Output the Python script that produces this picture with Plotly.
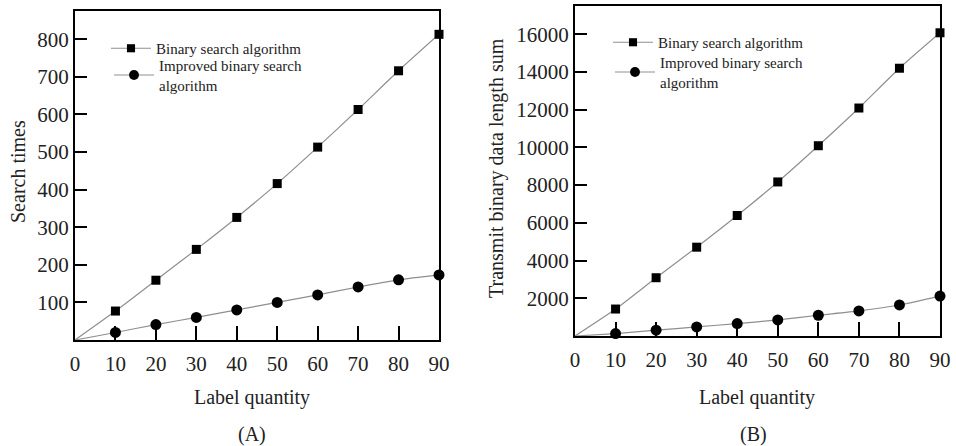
import plotly.graph_objects as go

# ---- data ----
label_quantity = [0, 10, 20, 30, 40, 50, 60, 70, 80, 90]
search_binary = [0, 77, 159, 241, 326, 416, 513, 613, 716, 813]
search_improved = [0, 20, 41, 60, 80, 100, 120, 141, 160, 173]
transmit_binary = [0, 1430, 3090, 4710, 6390, 8170, 10090, 12090, 14200, 16080]
transmit_improved = [0, 130, 310, 480, 660, 850, 1100, 1330, 1645, 2120]

x_ticks = [0, 10, 20, 30, 40, 50, 60, 70, 80, 90]
y_ticks_a = [100, 200, 300, 400, 500, 600, 700, 800]
y_ticks_b = [2000, 4000, 6000, 8000, 10000, 12000, 14000, 16000]

name_binary = "Binary search algorithm"
name_improved = "Improved binary search<br>algorithm"

W, H = 956, 446
FONT = "Liberation Serif"
LINE_C = "#8f8f8f"

def px(x):
    return x / W

def py(y):
    return (H - y) / H

fig = go.Figure()

def add_series(x, y, name, symbol, size, xa, ya, legend):
    sizes = [0 if v == 0 else size for v in x]
    fig.add_trace(go.Scatter(
        x=x, y=y, name=name, mode="lines+markers",
        line=dict(color=LINE_C, width=1.2, shape="spline", smoothing=0.6),
        marker=dict(symbol=symbol, size=sizes, color="black", opacity=1,
                    line=dict(width=0)),
        xaxis=xa, yaxis=ya, legend=legend, cliponaxis=False,
    ))

add_series(label_quantity, search_binary, name_binary, "square", 9, "x", "y", "legend")
add_series(label_quantity, search_improved, name_improved, "circle", 11, "x", "y", "legend2")
add_series(label_quantity, transmit_binary, name_binary, "square", 9, "x2", "y2", "legend3")
add_series(label_quantity, transmit_improved, name_improved, "circle", 11, "x2", "y2", "legend4")

axis_common = dict(
    showline=True, linecolor="black", linewidth=2, mirror=True,
    ticks="inside", tickcolor="black", tickwidth=2,
    showgrid=False, zeroline=False, automargin=False,
    tickformat="d",
    tickfont=dict(family=FONT, size=21, color="#222"),
)

def legend_at(x, y):
    return dict(x=px(x), y=py(y), xanchor="left", yanchor="top",
                bgcolor="rgba(0,0,0,0)", font=dict(family=FONT, size=15, color="#222"),
                tracegroupgap=0, itemwidth=40)

fig.update_layout(
    template="none",
    width=W, height=H,
    margin=dict(l=0, r=0, t=0, b=0, pad=0),
    paper_bgcolor="white", plot_bgcolor="white",
    font=dict(family=FONT, color="#222"),
    xaxis=dict(domain=[px(75), px(439)], range=[0, 90], tickvals=x_ticks,
               ticklen=14, anchor="y", ticklabelstandoff=4, **axis_common),
    yaxis=dict(domain=[py(340), py(11)], range=[0, 875], tickvals=y_ticks_a,
               ticklen=12, anchor="x", **axis_common),
    xaxis2=dict(domain=[px(575), px(940)], range=[0, 90], tickvals=x_ticks,
                ticklen=14, anchor="y2", ticklabelstandoff=4, **axis_common),
    yaxis2=dict(domain=[py(336), py(6)], range=[0, 17500], tickvals=y_ticks_b,
                ticklen=12, anchor="x2", **axis_common),
    legend=legend_at(106, 32),
    legend2=legend_at(109, 49),
    legend3=legend_at(608, 26),
    legend4=legend_at(610, 46),
    showlegend=True,
)

ann_font = dict(family=FONT, size=20, color="#222")
annotations = [
    dict(text="Search times", x=px(18), y=py(172), textangle=-90),
    dict(text="Label quantity", x=px(252), y=py(397)),
    dict(text="(A)", x=px(252), y=py(434)),
    dict(text="Transmit binary data length sum", x=px(496), y=py(168), textangle=-90),
    dict(text="Label quantity", x=px(757), y=py(397)),
    dict(text="(B)", x=px(753), y=py(434)),
]
for a in annotations:
    fig.add_annotation(xref="paper", yref="paper", showarrow=False,
                       xanchor="center", yanchor="middle", font=ann_font, **a)

# remove the page's default body margin so the figure fills the window exactly
fig.write_html("out.html",
               config={"displayModeBar": False},
               post_script="document.body.style.margin='0';document.body.style.overflow='hidden';")
